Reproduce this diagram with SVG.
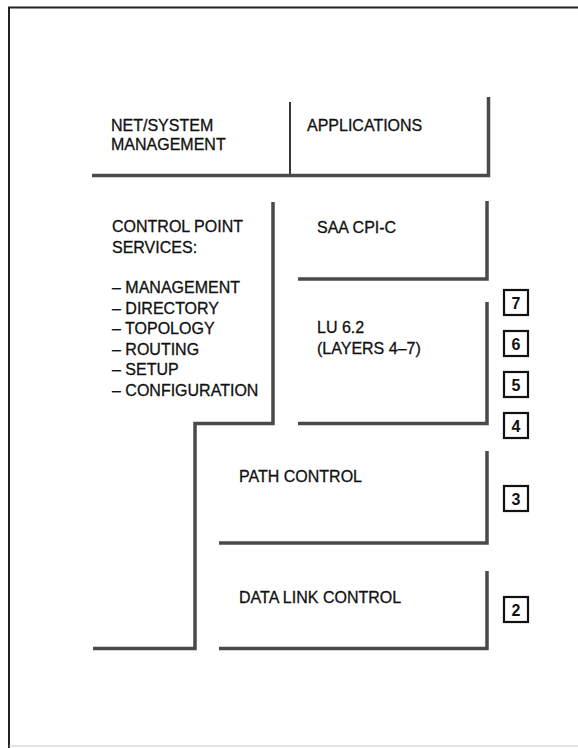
<svg xmlns="http://www.w3.org/2000/svg" width="578" height="748" viewBox="0 0 578 748">
<style>
  .t { font-family: "Liberation Sans", Arial, Helvetica, sans-serif; font-size: 16px; fill: #111; stroke: #111; stroke-width: 0.3; }
  .wall { fill: none; stroke: #4a4a4a; stroke-width: 3.5; stroke-linejoin: miter; stroke-linecap: butt; }
  .box { fill: #fff; stroke: #111; stroke-width: 2.2; }
  .num { font-family: "Liberation Sans", Arial, Helvetica, sans-serif; font-size: 16px; font-weight: bold; fill: #111; text-anchor: middle; }
</style>
<rect x="0" y="0" width="578" height="748" fill="#fff"/>
<g id="frame">
  <path d="M9 748 V7.5 H578" fill="none" stroke="#222" stroke-width="2"/>
  <line x1="9" y1="746" x2="578" y2="746" stroke="#c8c8c8" stroke-width="1"/>
</g>
<g id="net-system-management">
  <text class="t" x="111" y="131">NET/SYSTEM</text>
  <text class="t" x="111" y="150">MANAGEMENT</text>
</g>
<g id="applications">
  <text class="t" x="307" y="131">APPLICATIONS</text>
  <line x1="290" y1="102" x2="290" y2="175" stroke="#222" stroke-width="1.8"/>
  <path class="wall" d="M92 175.5 H488.5 V97"/>
</g>
<g id="control-point-services">
  <text class="t" x="112" y="232">CONTROL POINT</text>
  <text class="t" x="112" y="253">SERVICES:</text>
  <text class="t" x="112" y="293">– MANAGEMENT</text>
  <text class="t" x="112" y="313.5">– DIRECTORY</text>
  <text class="t" x="112" y="334">– TOPOLOGY</text>
  <text class="t" x="112" y="354.5">– ROUTING</text>
  <text class="t" x="112" y="375">– SETUP</text>
  <text class="t" x="112" y="395.5">– CONFIGURATION</text>
  <path class="wall" d="M273 202 V423.5 H195 V648.5 H93"/>
</g>
<g id="saa-cpi-c">
  <text class="t" x="317" y="233">SAA CPI-C</text>
  <path class="wall" d="M298 279 H487 V201"/>
</g>
<g id="lu-6-2">
  <text class="t" x="317" y="333">LU 6.2</text>
  <text class="t" x="317" y="354">(LAYERS 4–7)</text>
  <path class="wall" d="M298 423.5 H487 V302"/>
</g>
<g id="path-control">
  <text class="t" x="239" y="482">PATH CONTROL</text>
  <path class="wall" d="M219 543 H487 V451"/>
</g>
<g id="data-link-control">
  <text class="t" x="239" y="603">DATA LINK CONTROL</text>
  <path class="wall" d="M219 648.5 H487 V571"/>
</g>
<g id="layer-7"><rect class="box" x="504" y="290" width="24" height="25"/><text class="num" x="516" y="308.5">7</text></g>
<g id="layer-6"><rect class="box" x="504" y="331" width="24" height="25"/><text class="num" x="516" y="349.5">6</text></g>
<g id="layer-5"><rect class="box" x="504" y="372" width="24" height="25"/><text class="num" x="516" y="390.5">5</text></g>
<g id="layer-4"><rect class="box" x="504" y="413" width="24" height="25"/><text class="num" x="516" y="431.5">4</text></g>
<g id="layer-3"><rect class="box" x="504" y="486" width="24" height="25"/><text class="num" x="516" y="504.5">3</text></g>
<g id="layer-2"><rect class="box" x="504" y="597" width="24" height="25"/><text class="num" x="516" y="615.5">2</text></g>
</svg>
